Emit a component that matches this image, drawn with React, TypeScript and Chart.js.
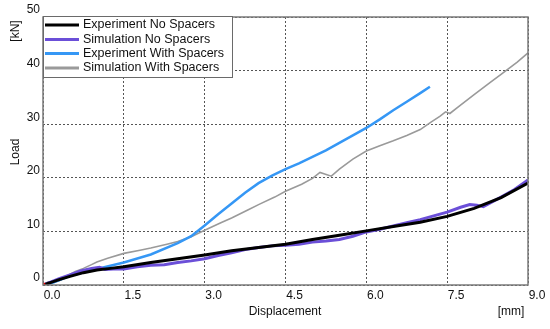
import React, { useEffect, useRef } from "react";
import { Chart, registerables } from "chart.js";
Chart.register(...registerables);

const seriesLabels = ["Experiment No Spacers", "Simulation No Spacers", "Experiment With Spacers", "Simulation With Spacers"];
const seriesColors = ["#000000", "#6b4fd8", "#3597f5", "#9a9a9a"];
const seriesWidths = [3, 3, 2.5, 1.6];

const expNoX = [0, 0.15, 0.3, 0.5, 0.75, 1.0, 1.25, 1.5, 2.0, 2.5, 3.0, 3.5, 4.0, 4.5, 5.0, 5.5, 6.0, 6.5, 7.0, 7.5, 8.0, 8.5, 9.0];
const expNoY = [0, 0.5, 1.0, 1.6, 2.3, 2.8, 3.1, 3.4, 4.2, 4.9, 5.6, 6.4, 7.0, 7.6, 8.5, 9.3, 10.1, 10.9, 11.7, 12.8, 14.3, 16.3, 19.0];

const simNoX = [0, 0.15, 0.3, 0.5, 0.7, 0.9, 1.05, 1.15, 1.3, 1.5, 1.75, 2.0, 2.25, 2.5, 2.75, 3.0, 3.25, 3.5, 3.75, 4.0, 4.25, 4.5, 4.75, 5.0, 5.25, 5.5, 5.75, 6.0, 6.25, 6.5, 6.75, 7.0, 7.25, 7.5, 7.75, 7.92, 8.05, 8.17, 8.35, 8.5, 8.75, 9.0];
const simNoY = [0, 0.6, 1.2, 1.9, 2.6, 3.1, 3.3, 2.9, 3.0, 3.0, 3.4, 3.7, 3.8, 4.2, 4.5, 4.9, 5.5, 6.0, 6.6, 7.0, 7.3, 7.4, 7.6, 8.0, 8.2, 8.5, 9.1, 9.9, 10.4, 11.0, 11.6, 12.2, 12.9, 13.6, 14.5, 15.0, 14.9, 14.6, 15.6, 16.4, 17.8, 19.6];

const expWithX = [0, 0.2, 0.5, 1.0, 1.5, 2.0, 2.5, 2.75, 3.0, 3.25, 3.5, 3.75, 4.0, 4.25, 4.5, 4.75, 5.0, 5.25, 5.5, 5.75, 6.0, 6.25, 6.5, 6.75, 7.0, 7.18];
const expWithY = [0, 0.5, 1.7, 3.0, 4.2, 5.7, 7.8, 9.1, 11.1, 13.2, 15.2, 17.2, 19.0, 20.4, 21.6, 22.7, 23.9, 25.1, 26.5, 27.9, 29.3, 30.9, 32.6, 34.2, 35.8, 37.0];

const simWithX = [0, 0.1, 0.2, 0.32, 0.44, 0.6, 0.75, 0.9, 1.0, 1.2, 1.5, 1.8, 2.0, 2.3, 2.5, 2.75, 3.0, 3.3, 3.5, 3.8, 4.0, 4.3, 4.5, 4.8, 5.0, 5.14, 5.35, 5.5, 5.75, 6.0, 6.25, 6.5, 6.75, 7.0, 7.2, 7.37, 7.47, 7.55, 7.7, 8.0, 8.3, 8.5, 8.8, 9.0];
const simWithY = [0, 0.6, 0.5, 0.9, 1.7, 2.5, 3.1, 3.8, 4.3, 5.0, 5.9, 6.5, 6.9, 7.6, 8.1, 9.0, 10.2, 11.6, 12.5, 14.0, 15.0, 16.4, 17.5, 18.8, 19.9, 21.0, 20.3, 21.6, 23.5, 25.0, 26.0, 26.9, 27.9, 29.0, 30.4, 31.5, 32.3, 32.0, 33.2, 35.5, 37.8, 39.3, 41.6, 43.3];

const originX = [0];
const originY = [0];

const xTicks = [0, 1.5, 3.0, 4.5, 6.0, 7.5, 9.0];
const yTicks = [0, 10, 20, 30, 40, 50];
const xTitle = "Displacement";
const xUnit = "[mm]";
const yTitle = "Load";
const yUnit = "[kN]";

const FONT = "'Liberation Sans', Arial, sans-serif";

function pts(xs: number[], ys: number[]) {
  return xs.map((x, i) => ({ x, y: ys[i] }));
}

const decorPlugin = {
  id: "decor",
  afterDraw(chart: any) {
    const { ctx, chartArea } = chart;
    ctx.save();
    ctx.strokeStyle = "#7a7a7a";
    ctx.lineWidth = 1.5;
    ctx.setLineDash([]);
    ctx.strokeRect(chartArea.left, chartArea.top, chartArea.right - chartArea.left, chartArea.bottom - chartArea.top);
    ctx.fillStyle = "#111";
    ctx.font = "12px " + FONT;
    ctx.textAlign = "center";
    ctx.textBaseline = "middle";
    ctx.fillText(xTitle, 285, 312);
    ctx.fillText(xUnit, 511, 312);
    ctx.save();
    ctx.translate(16, 152);
    ctx.rotate(-Math.PI / 2);
    ctx.fillText(yTitle, 0, 0);
    ctx.restore();
    ctx.save();
    ctx.translate(16, 31);
    ctx.rotate(-Math.PI / 2);
    ctx.fillText(yUnit, 0, 0);
    ctx.restore();
    const lx = chartArea.left, ly = chartArea.top - 1;
    const lw = 189, lh = 61;
    ctx.fillStyle = "#ffffff";
    ctx.fillRect(lx, ly, lw, lh);
    ctx.strokeStyle = "#6a6a6a";
    ctx.lineWidth = 1;
    ctx.strokeRect(lx + 0.5, ly + 0.5, lw, lh);
    const rows = [25, 39.5, 53.5, 68];
    ctx.textAlign = "left";
    for (let i = 0; i < seriesLabels.length; i++) {
      ctx.strokeStyle = seriesColors[i];
      ctx.lineWidth = 3;
      ctx.beginPath();
      ctx.moveTo(45, rows[i]);
      ctx.lineTo(79, rows[i]);
      ctx.stroke();
      ctx.fillStyle = "#111";
      ctx.font = "12.5px " + FONT;
      ctx.fillText(seriesLabels[i], 83, rows[i]);
    }
    ctx.restore();
  },
};

export default function App() {
  const ref = useRef<HTMLCanvasElement>(null);
  useEffect(() => {
    if (!ref.current) return;
    const series = [
      pts(expNoX, expNoY),
      pts(simNoX, simNoY),
      pts(expWithX, expWithY),
      pts(simWithX, simWithY),
    ];
    const datasets: any[] = series.map((d, i) => ({
      label: seriesLabels[i],
      data: d,
      borderColor: seriesColors[i],
      backgroundColor: seriesColors[i],
      borderWidth: seriesWidths[i],
      pointRadius: 0,
      tension: 0,
      fill: false,
    }));
    datasets.unshift({
      label: "origin",
      data: pts(originX, originY),
      borderColor: "#ff0000",
      backgroundColor: "#ff0000",
      pointStyle: "rect",
      pointRadius: 2.5,
      showLine: false,
    });
    const chart = new Chart(ref.current, {
      type: "line",
      data: { datasets },
      plugins: [decorPlugin],
      options: {
        animation: false,
        responsive: false,
        maintainAspectRatio: false,
        layout: { padding: { top: 17, right: 22, left: 0, bottom: 0 } },
        plugins: { legend: { display: false }, tooltip: { enabled: false } },
        scales: {
          x: {
            type: "linear",
            min: 0,
            max: 9,
            afterBuildTicks: (s: any) => {
              s.ticks = xTicks.map((v) => ({ value: v }));
            },
            afterFit: (s: any) => {
              s.height = 44;
            },
            grid: { color: "#555", lineWidth: 1, drawTicks: false },
            border: { display: false, dash: [2, 2] },
            ticks: {
              color: "#111",
              font: { family: FONT, size: 12 },
              padding: 3,
              labelOffset: 9,
              maxRotation: 0,
              callback: (v: any) => Number(v).toFixed(1),
            },
          },
          y: {
            type: "linear",
            min: 0,
            max: 50,
            afterBuildTicks: (s: any) => {
              s.ticks = yTicks.map((v) => ({ value: v }));
            },
            afterFit: (s: any) => {
              s.width = 43;
            },
            grid: { color: "#555", lineWidth: 1, drawTicks: false },
            border: { display: false, dash: [2, 2] },
            ticks: {
              color: "#111",
              font: { family: FONT, size: 12 },
              padding: 3,
              labelOffset: -7,
              callback: (v: any) => String(v),
            },
          },
        },
      },
    });
    return () => chart.destroy();
  }, []);
  return (
    <div style={{ position: "absolute", left: 0, top: 0, width: 550, height: 329, background: "#fff" }}>
      <canvas ref={ref} width={550} height={329} style={{ width: 550, height: 329 }} />
    </div>
  );
}
